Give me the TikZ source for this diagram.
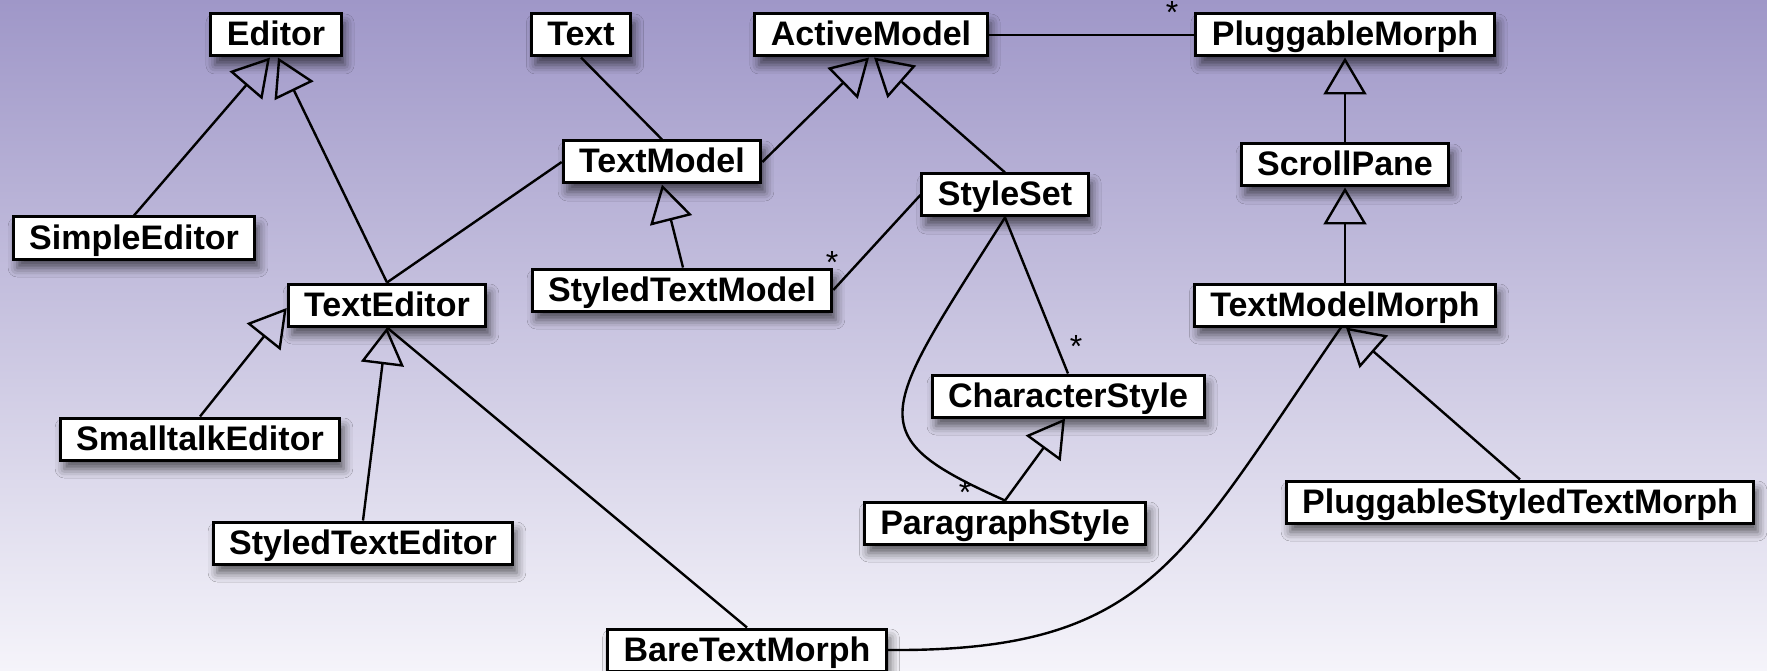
\documentclass[tikz,border=0pt]{standalone}
\usepackage{fontspec}
\setmainfont{Liberation Sans}
\usetikzlibrary{arrows.meta, shadows.blur}
\definecolor{bgtop}{RGB}{159,151,200}
\definecolor{bgbottom}{RGB}{245,244,250}

\begin{document}
\begin{tikzpicture}[x=1pt, y=-1pt,
    cls/.style={draw, line width=3pt, fill=white,
        font=\fontsize{34}{40}\selectfont\bfseries,
        inner xsep=16pt, inner ysep=8pt, text height=24pt, text depth=2pt,
        blur shadow={shadow xshift=4pt, shadow yshift=-9pt,
            shadow blur radius=9pt, shadow opacity=60}},
    assoc/.style={line width=2.4pt},
    gen/.style={line width=2.4pt, -{Triangle[open, length=37pt, width=43pt]}},
    mult/.style={inner sep=0pt, font=\fontsize{32}{34}\selectfont,
        text height=23pt, text depth=-13pt}]
    \useasboundingbox (0,0) rectangle (1767,671);
    \shade[top color=bgtop, bottom color=bgbottom] (0,0) rectangle (1767,671);
    \node[cls](editor)        at (276,35)  {Editor};
    \node[cls](text)          at (581,35)  {Text};
    \node[cls](active)        at (871,35)  {ActiveModel};
    \node[cls](plugmorph)     at (1345,35) {PluggableMorph};
    \node[cls](textmodel)     at (662,162) {TextModel};
    \node[cls](simple)        at (134,238) {SimpleEditor};
    \node[cls](styleset)      at (1005,195) {StyleSet};
    \node[cls](scroll)        at (1345,165) {ScrollPane};
    \node[cls](styledmodel)   at (682,290) {StyledTextModel};
    \node[cls](texteditor)    at (387,305) {TextEditor};
    \node[cls](modelmorph)    at (1345,305) {TextModelMorph};
    \node[cls](charstyle)     at (1068,396) {CharacterStyle};
    \node[cls](smalltalk)     at (200,439) {SmalltalkEditor};
    \node[cls](plugstyled)    at (1520,502) {PluggableStyledTextMorph};
    \node[cls](parastyle)     at (1005,523) {ParagraphStyle};
    \node[cls](stylededitor)  at (363,543) {StyledTextEditor};
    \node[cls](bare)          at (747,650) {BareTextMorph};
    % Multiplicities
    \node[mult](m1) at (1172,12)  {*};
    \node[mult](m2) at (832,262)  {*};
    \node[mult](m3) at (1076,346) {*};
    \node[mult](m4) at (965,492)  {*};
    % Links
    \path
        (simple.north)
            edge [gen] ([xshift=-6pt]editor.south)
        (texteditor.north)
            edge [gen] ([xshift=2pt]editor.south)
            edge [assoc] (textmodel.west)
        (texteditor.south)
            edge [assoc] (bare.north)
        (text.south)
            edge [assoc] (textmodel.north)
        (textmodel.east)
            edge [gen] ([xshift=-2pt]active.south)
        (styleset.north)
            edge [gen] ([xshift=3pt]active.south)
        (active.east)
            edge [assoc] (plugmorph.west)
        (scroll.north)
            edge [gen] (plugmorph.south)
        (modelmorph.north)
            edge [gen] (scroll.south)
        ([xshift=1pt]styledmodel.north)
            edge [gen] (textmodel.south)
        (styleset.west)
            edge [assoc] (styledmodel.east)
        (styleset.south)
            edge [assoc] (charstyle.north)
        (parastyle.north)
            edge [gen] ([xshift=-3pt]charstyle.south)
        (smalltalk.north)
            edge [gen] ([yshift=-3pt]texteditor.west)
        (stylededitor.north)
            edge [gen] (texteditor.south)
        (plugstyled.north)
            edge [gen] ([xshift=1pt]modelmorph.south)
        ;
    \draw[assoc] (styleset.south)
        .. controls (879,416) and (858,435) .. (parastyle.north);
    \draw[assoc] (bare.east)
        .. controls (1150,652) and (1180,560) .. ([xshift=-4pt]modelmorph.south);
\end{tikzpicture}
\end{document}
